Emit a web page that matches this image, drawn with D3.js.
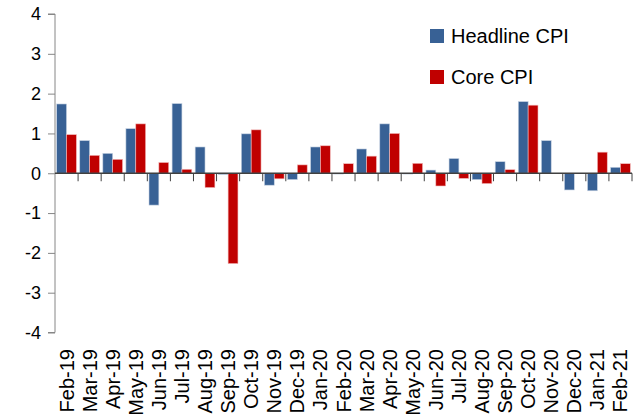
<!DOCTYPE html>
<html><head><meta charset="utf-8">
<script src="https://cdn.jsdelivr.net/npm/d3@7"></script>
<style>body{margin:0;background:#fff}svg{display:block}</style>
</head><body>
<script>
const categories = ["Feb-19","Mar-19","Apr-19","May-19","Jun-19","Jul-19","Aug-19","Sep-19","Oct-19","Nov-19","Dec-19","Jan-20","Feb-20","Mar-20","Apr-20","May-20","Jun-20","Jul-20","Aug-20","Sep-20","Oct-20","Nov-20","Dec-20","Jan-21","Feb-21"];
const headline = [1.74,0.82,0.50,1.12,-0.80,1.75,0.66,-0.03,0.99,-0.30,-0.16,0.66,-0.02,0.61,1.24,-0.02,0.08,0.37,-0.16,0.29,1.80,0.82,-0.42,-0.44,0.15];
const core = [0.97,0.45,0.35,1.24,0.27,0.10,-0.36,-2.27,1.09,-0.14,0.21,0.69,0.24,0.43,1.00,0.25,-0.32,-0.13,-0.26,0.09,1.71,0,0,0.53,0.24];
const yTicks = [-4,-3,-2,-1,0,1,2,3,4];
const seriesNames = ["Headline CPI","Core CPI"];
const colors = ["#386195","#C00000"];

const W = 642, H = 419;
const svg = d3.select("body").append("svg").attr("width", W).attr("height", H);
const x0 = 55, x1 = 632, yTop = 14, yBot = 332.5;
const x = d3.scaleBand().domain(categories).range([x0, x1]).paddingInner(0).paddingOuter(0);
const y = d3.scaleLinear().domain([-4, 4]).range([yBot, yTop]);
const bw = x.bandwidth();
const sub = d3.scaleBand().domain([0,1]).range([0, bw]).paddingInner(0).paddingOuter(0.17);

const series = [headline, core];
series.forEach((vals, si) => {
  svg.append("g").selectAll("rect").data(vals).join("rect")
    .attr("x", (d,i) => x(categories[i]) + sub(si))
    .attr("width", sub.bandwidth())
    .attr("y", d => y(Math.max(0,d)))
    .attr("height", d => Math.abs(y(d) - y(0)))
    .attr("fill", colors[si])
    .attr("stroke", si === 0 ? "#c9d4e3" : "#f2bcbc")
    .attr("stroke-width", 0.6);
});

// y axis
const yAxis = d3.axisLeft(y).tickValues(yTicks).tickSize(7).tickPadding(6).tickFormat(d => String(d));
const gy = svg.append("g").attr("transform", `translate(${x0},0)`).call(yAxis);
gy.select(".domain").attr("stroke", "#868686").attr("d", `M-7,${y(4)}H0V${y(-4)}H-7`);
gy.selectAll(".tick line").attr("stroke", "#868686");
gy.selectAll("text").attr("font-family", "Liberation Sans, Arial, sans-serif").attr("font-size", 18).attr("fill", "#000").attr("x", -14);

// x axis at zero with ticks between categories
const gx = svg.append("g").attr("transform", `translate(0,${y(0)})`);
gx.append("line").attr("x1", x0).attr("x2", x1).attr("y1", 0).attr("y2", 0).attr("stroke", "#404040").attr("stroke-width", 1.5);
const bounds = categories.map(c => x(c) + bw);
gx.selectAll("line.t").data(bounds).join("line").attr("class","t")
  .attr("x1", d => d).attr("x2", d => d).attr("y1", 0).attr("y2", 8)
  .attr("stroke", "#404040").attr("stroke-width", 1);

// x labels
svg.append("g").selectAll("text").data(categories).join("text")
  .attr("transform", d => `translate(${x(d) + bw/2 + 7},349) rotate(-90)`)
  .attr("text-anchor", "end")
  .attr("font-family", "Liberation Sans, Arial, sans-serif")
  .attr("font-size", 20)
  .text(d => d);

// legend
const leg = svg.append("g");
seriesNames.forEach((n, i) => {
  const ly = i === 0 ? 29 : 70;
  leg.append("rect").attr("x", 430).attr("y", ly).attr("width", 14).attr("height", 14).attr("fill", colors[i]);
  leg.append("text").attr("x", 451).attr("y", ly + 14).attr("font-family", "Liberation Sans, Arial, sans-serif").attr("font-size", 20).text(n);
});
</script>
</body></html>
